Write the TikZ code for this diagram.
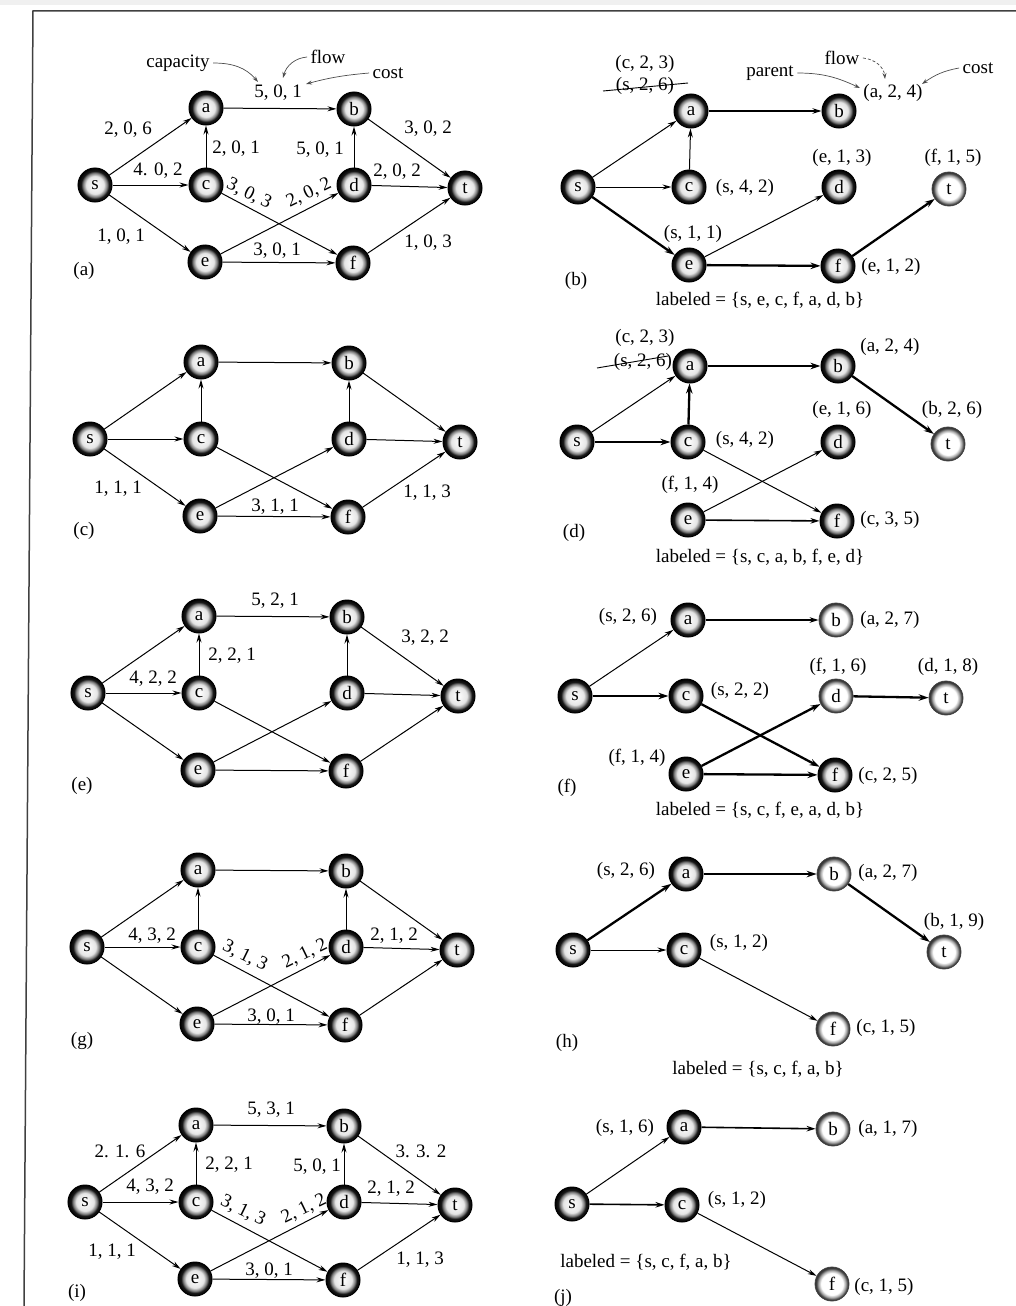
\documentclass[tikz,border=0pt]{standalone}
\usepackage{fontspec}
\setmainfont{Liberation Serif}
\usetikzlibrary{arrows.meta}
\pgfdeclareradialshading{vshade}{\pgfpoint{0bp}{0bp}}{color(0bp)=(white); color(13bp)=(black!10); color(17.5bp)=(black!50); color(20.5bp)=(black!90); color(25bp)=(black); color(50bp)=(black)}
\pgfdeclareradialshading{lshade}{\pgfpoint{0bp}{0bp}}{color(0bp)=(white); color(16bp)=(white); color(20bp)=(black!35); color(23bp)=(black!75); color(25bp)=(black!80); color(50bp)=(black!80)}
\newcommand{\fullgraph}[1]{%
  \node[vtx] (#1s) at (0,0) {s};
  \node[vtx] (#1a) at (111,-77) {a};
  \node[vtx] (#1b) at (259,-76) {b};
  \node[vtx] (#1c) at (111,0) {c};
  \node[vtx] (#1d) at (259,0) {d};
  \node[vtx] (#1t) at (370,3) {t};
  \node[vtx] (#1e) at (110,77) {e};
  \node[vtx] (#1f) at (258,78) {f};
  \draw[ed] (#1s) -- (#1a);
  \draw[ed] (#1s) -- (#1c);
  \draw[ed] (#1s) -- (#1e);
  \draw[ed] (#1c) -- (#1a);
  \draw[ed] (#1a) -- (#1b);
  \draw[ed] (#1c) -- (#1f);
  \draw[ed] (#1e) -- (#1d);
  \draw[ed] (#1e) -- (#1f);
  \draw[ed] (#1d) -- (#1b);
  \draw[ed] (#1d) -- (#1t);
  \draw[ed] (#1b) -- (#1t);
  \draw[ed] (#1f) -- (#1t);
}
\begin{document}
\begin{tikzpicture}[x=1pt,y=-1pt,
  font=\fontsize{19}{21}\selectfont,
  vtx/.style={circle,minimum size=34pt,inner sep=0pt,shade,shading=vshade,draw=black,line width=1pt},
  ltx/.style={circle,minimum size=34pt,inner sep=0pt,shade,shading=lshade,draw=black!75,line width=0.8pt},
  ed/.style={-{Stealth[length=9pt,width=5pt]},line width=1pt},
  med/.style={-{Stealth[length=9pt,width=5.5pt]},line width=1.6pt},
  bed/.style={-{Stealth[length=10pt,width=6.5pt]},line width=2.3pt},
  ann/.style={-{Stealth[length=6pt,width=4pt]},line width=0.7pt,black!70},
  strike/.style={line width=0.9pt,black}
]
\useasboundingbox (0,0) rectangle (1016,1306);
\fill[black!6] (0,0) rectangle (1016,5);
\draw[line width=1.5pt,black!75] (24,1306) -- (33,11) -- (1016,11);

% ---------------- (a)
\begin{scope}[shift={(95,185)}] \fullgraph{A} \end{scope}
\node (Al1) at (128,130) {2, 0, 6};
\node (Al2) at (158,171) {4. 0, 2};
\node (Al3) at (236,149) {2, 0, 1};
\node (Al4) at (278,93) {5, 0, 1};
\node (Al5) at (320,150) {5, 0, 1};
\node (Al6) at (397,172) {2, 0, 2};
\node (Al7) at (428,129) {3, 0, 2};
\node (Al8) at (121,237) {1, 0, 1};
\node (Al9) at (277,251) {3, 0, 1};
\node (Al10) at (428,243) {1, 0, 3};
\node[rotate=-26,inner sep=0pt] (Al11) at (249,194) {3, 0, 3};
\node[rotate=26,inner sep=0pt] (Al12) at (309,193) {2, 0, 2};
\node (Acap) at (178,63) {capacity};
\node (Aflow) at (328,57) {flow};
\node (Acost) at (388,73) {cost};
\coordinate (AcapT) at (258,82);
\coordinate (AflowT) at (283,78);
\coordinate (AcostT) at (306,84);
\draw[ann] (Acap.east) to[out=0,in=130] (AcapT);
\draw[ann] (Aflow.west) to[out=185,in=75] (AflowT);
\draw[ann] (Acost.west) to[out=185,in=15] (AcostT);
\node (Aname) at (84,271) {(a)};

% ---------------- (c)
\begin{scope}[shift={(90,439)}] \fullgraph{C} \end{scope}
\node (Cl1) at (118,489) {1, 1, 1};
\node (Cl2) at (275,507) {3, 1, 1};
\node (Cl3) at (427,493) {1, 1, 3};
\node (Cname) at (84,531) {(c)};

% ---------------- (e)
\begin{scope}[shift={(88,693)}] \fullgraph{E} \end{scope}
\node (El1) at (275,601) {5, 2, 1};
\node (El2) at (232,656) {2, 2, 1};
\node (El3) at (153,679) {4, 2, 2};
\node (El4) at (425,638) {3, 2, 2};
\node (Ename) at (82,786) {(e)};

% ---------------- (g)
\begin{scope}[shift={(87,947)}] \fullgraph{G} \end{scope}
\node (Gl1) at (152,936) {4, 3, 2};
\node[rotate=-26,inner sep=0pt] (Gl2) at (245,956) {3, 1, 3};
\node[rotate=26,inner sep=0pt] (Gl3) at (305,954) {2, 1, 2};
\node (Gl4) at (394,936) {2, 1, 2};
\node (Gl5) at (271,1017) {3, 0, 1};
\node (Gname) at (82,1041) {(g)};

% ---------------- (i)
\begin{scope}[shift={(85,1202)}] \fullgraph{I} \end{scope}
\node (Il1) at (271,1110) {5, 3, 1};
\node (Il2) at (120,1151) {2. 1. 6};
\node (Il3) at (229,1165) {2, 2, 1};
\node (Il4) at (317,1167) {5, 0, 1};
\node (Il5) at (421,1151) {3. 3. 2};
\node (Il6) at (150,1187) {4, 3, 2};
\node[rotate=-26,inner sep=0pt] (Il7) at (243,1211) {3, 1, 3};
\node[rotate=26,inner sep=0pt] (Il8) at (304,1209) {2, 1, 2};
\node (Il9) at (391,1189) {2, 1, 2};
\node (Il10) at (112,1252) {1, 1, 1};
\node (Il11) at (269,1271) {3, 0, 1};
\node (Il12) at (420,1260) {1, 1, 3};
\node (Iname) at (77,1293) {(i)};

% ---------------- (b)
\begin{scope}[shift={(578,187)}]
  \node[vtx] (Bs) at (0,0) {s};
  \node[vtx] (Ba) at (113,-76) {a};
  \node[vtx] (Bb) at (261,-76) {b};
  \node[vtx] (Bc) at (111,0) {c};
  \node[vtx] (Bd) at (261,0) {d};
  \node[ltx] (Bt) at (371,2) {t};
  \node[vtx] (Be) at (111,78) {e};
  \node[vtx] (Bf) at (260,79) {f};
\end{scope}
\draw[ed] (Bs) -- (Ba);
\draw[ed] (Bs) -- (Bc);
\draw[bed] (Bs) -- (Be);
\draw[ed] (Bc) -- (Ba);
\draw[med] (Ba) -- (Bb);
\draw[ed] (Be) -- (Bd);
\draw[bed] (Be) -- (Bf);
\draw[bed] (Bf) -- (Bt);
\node (Bl1) at (645,64) {(c, 2, 3)};
\node (Bl2) at (645,86) {(s, 2, 6)};
\coordinate (BsL) at (603,91);
\coordinate (BsR) at (688,83);
\draw[strike] (BsL) -- (BsR);
\node (Bpar) at (770,73) {parent};
\node (Bflow) at (842,58) {flow};
\node (Bcost) at (978,68) {cost};
\node (Bl3) at (893,93) {(a, 2, 4)};
\coordinate (BparT) at (860,88);
\coordinate (BflowT) at (885,79);
\coordinate (BcostT) at (922,84);
\draw[ann] (Bpar.east) to[out=0,in=155] (BparT);
\draw[ann,densely dashed] (Bflow.east) to[out=-5,in=95] (BflowT);
\draw[ann] (Bcost.west) to[out=190,in=35] (BcostT);
\node (Bl4) at (745,188) {(s, 4, 2)};
\node (Bl5) at (842,158) {(e, 1, 3)};
\node (Bl6) at (953,158) {(f, 1, 5)};
\node (Bl7) at (693,234) {(s, 1, 1)};
\node (Bl8) at (891,267) {(e, 1, 2)};
\node (Bname) at (576,281) {(b)};
\node (Blab) at (760,300) {labeled = \{s, e, c, f, a, d, b\}};

% ---------------- (d)
\begin{scope}[shift={(577,442)}]
  \node[vtx] (Ds) at (0,0) {s};
  \node[vtx] (Da) at (113,-76) {a};
  \node[vtx] (Db) at (261,-76) {b};
  \node[vtx] (Dc) at (111,0) {c};
  \node[vtx] (Dd) at (261,0) {d};
  \node[ltx] (Dt) at (371,2) {t};
  \node[vtx] (De) at (111,78) {e};
  \node[vtx] (Df) at (260,79) {f};
\end{scope}
\draw[ed] (Ds) -- (Da);
\draw[bed] (Ds) -- (Dc);
\draw[bed] (Dc) -- (Da);
\draw[bed] (Da) -- (Db);
\draw[bed] (Db) -- (Dt);
\draw[ed] (De) -- (Dd);
\draw[ed] (Dc) -- (Df);
\draw[med] (De) -- (Df);
\node (Dl1) at (645,338) {(c, 2, 3)};
\node (Dl2) at (643,362) {(s, 2, 6)};
\coordinate (DsL) at (597,368);
\coordinate (DsR) at (668,356);
\draw[strike] (DsL) -- (DsR);
\node (Dl3) at (890,347) {(a, 2, 4)};
\node (Dl4) at (842,410) {(e, 1, 6)};
\node (Dl5) at (952,410) {(b, 2, 6)};
\node (Dl6) at (745,440) {(s, 4, 2)};
\node (Dl7) at (690,485) {(f, 1, 4)};
\node (Dl8) at (890,520) {(c, 3, 5)};
\node (Dname) at (574,533) {(d)};
\node (Dlab) at (760,557) {labeled = \{s, c, a, b, f, e, d\}};

% ---------------- (f)
\begin{scope}[shift={(575,696)}]
  \node[vtx] (Fs) at (0,0) {s};
  \node[vtx] (Fa) at (113,-76) {a};
  \node[ltx] (Fb) at (261,-76) {b};
  \node[vtx] (Fc) at (111,0) {c};
  \node[ltx] (Fd) at (261,0) {d};
  \node[ltx] (Ft) at (371,2) {t};
  \node[vtx] (Fe) at (111,78) {e};
  \node[vtx] (Ff) at (260,79) {f};
\end{scope}
\draw[ed] (Fs) -- (Fa);
\draw[med] (Fa) -- (Fb);
\draw[bed] (Fs) -- (Fc);
\draw[bed] (Fc) -- (Ff);
\draw[bed] (Fe) -- (Fd);
\draw[bed] (Fe) -- (Ff);
\draw[bed] (Fd) -- (Ft);
\node (Fl1) at (628,617) {(s, 2, 6)};
\node (Fl2) at (890,620) {(a, 2, 7)};
\node (Fl3) at (838,667) {(f, 1, 6)};
\node (Fl4) at (948,667) {(d, 1, 8)};
\node (Fl5) at (740,691) {(s, 2, 2)};
\node (Fl6) at (637,758) {(f, 1, 4)};
\node (Fl7) at (888,776) {(c, 2, 5)};
\node (Fname) at (567,788) {(f)};
\node (Flab) at (760,810) {labeled = \{s, c, f, e, a, d, b\}};

% ---------------- (h)
\begin{scope}[shift={(573,950)}]
  \node[vtx] (Hs) at (0,0) {s};
  \node[vtx] (Ha) at (113,-76) {a};
  \node[ltx] (Hb) at (261,-76) {b};
  \node[vtx] (Hc) at (111,0) {c};
  \node[ltx] (Ht) at (371,2) {t};
  \node[ltx] (Hf) at (260,79) {f};
\end{scope}
\draw[bed] (Hs) -- (Ha);
\draw[bed] (Ha) -- (Hb);
\draw[bed] (Hb) -- (Ht);
\draw[ed] (Hs) -- (Hc);
\draw[ed] (Hc) -- (Hf);
\node (Hl1) at (626,871) {(s, 2, 6)};
\node (Hl2) at (888,873) {(a, 2, 7)};
\node (Hl3) at (954,922) {(b, 1, 9)};
\node (Hl4) at (739,943) {(s, 1, 2)};
\node (Hl5) at (886,1028) {(c, 1, 5)};
\node (Hname) at (567,1043) {(h)};
\node (Hlab) at (758,1069) {labeled = \{s, c, f, a, b\}};

% ---------------- (j)
\begin{scope}[shift={(572,1204)}]
  \node[vtx] (Js) at (0,0) {s};
  \node[vtx] (Ja) at (112,-77) {a};
  \node[ltx] (Jb) at (261,-75) {b};
  \node[vtx] (Jc) at (110,1) {c};
  \node[ltx] (Jf) at (260,80) {f};
\end{scope}
\draw[ed] (Js) -- (Ja);
\draw[med] (Ja) -- (Jb);
\draw[med] (Js) -- (Jc);
\draw[ed] (Jc) -- (Jf);
\node (Jl1) at (625,1128) {(s, 1, 6)};
\node (Jl2) at (888,1129) {(a, 1, 7)};
\node (Jl3) at (737,1200) {(s, 1, 2)};
\node (Jlab) at (646,1262) {labeled = \{s, c, f, a, b\}};
\node (Jl4) at (884,1287) {(c, 1, 5)};
\node (Jname) at (563,1298) {(j)};
\end{tikzpicture}
\end{document}
